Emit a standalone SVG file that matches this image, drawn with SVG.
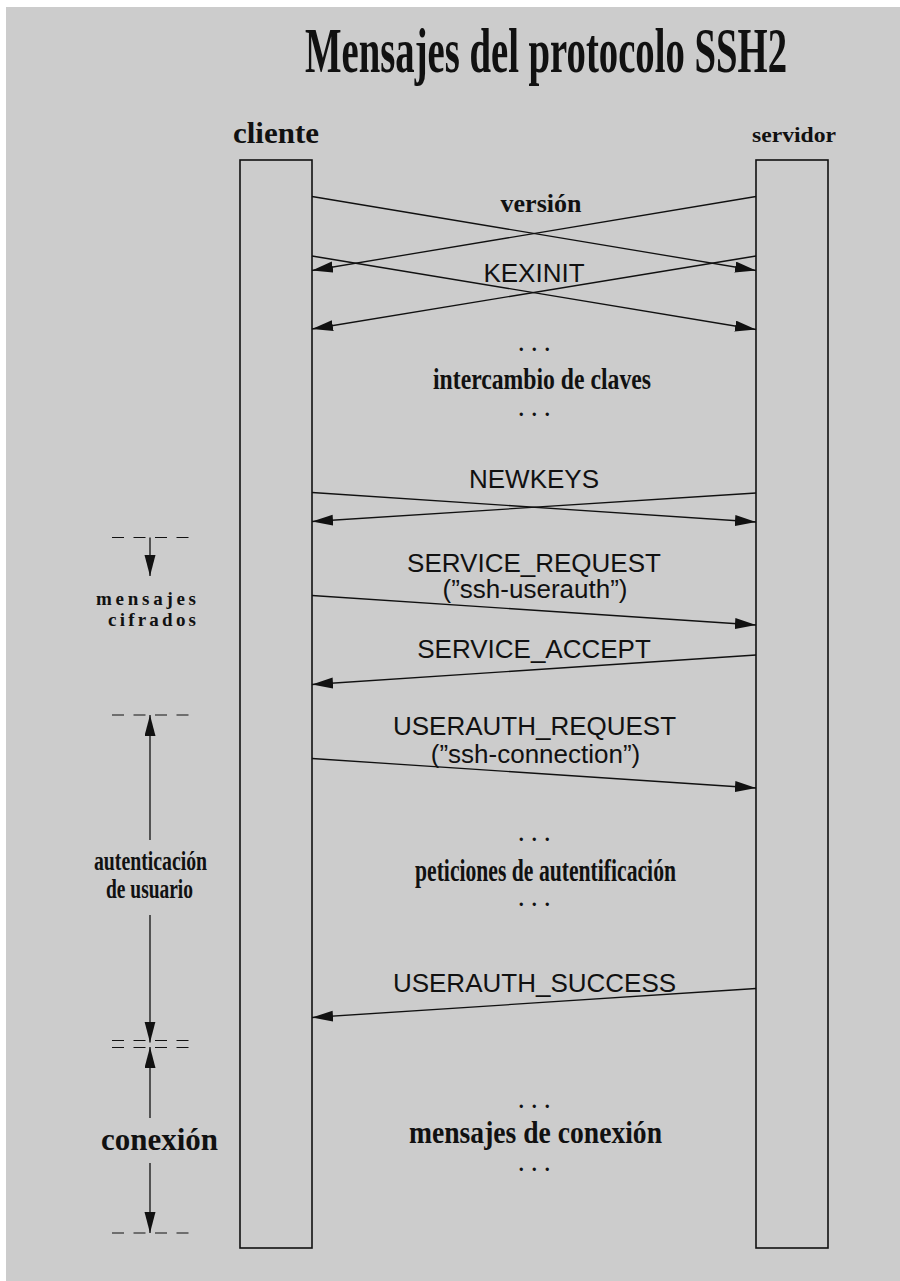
<svg xmlns="http://www.w3.org/2000/svg" width="900" height="1281" viewBox="0 0 900 1281">
  <style>
    .lifeline { fill: none; stroke: #111; stroke-width: 1.6; }
    .msg { fill: none; stroke: #111; stroke-width: 1.3; marker-end: url(#head); }
    .phase-arrow { fill: none; stroke: #111; stroke-width: 1.3; marker-end: url(#head); }
    .dash { fill: none; stroke: #111; stroke-width: 1.2; stroke-dasharray: 12 9.5; }
    .sans { font-family: "Liberation Sans", Arial, sans-serif; font-size: 26px; fill: #111; }
    .serif { font-family: "Liberation Serif", "Times New Roman", serif; font-weight: bold; fill: #111; }
    .dots { font-family: "Liberation Serif", "Times New Roman", serif; font-weight: bold; font-size: 20px; letter-spacing: 1.5px; fill: #111; }
  </style>
  <defs>
    <marker id="head" markerUnits="userSpaceOnUse" markerWidth="22" markerHeight="12" refX="21" refY="5.5" orient="auto">
      <path d="M0,0 L21,5.5 L0,11 z" fill="#111"/>
    </marker>
  </defs>

  <!-- page background -->
  <rect x="0" y="0" width="900" height="1281" fill="#ffffff"/>
  <rect x="6" y="7" width="894" height="1274" fill="#cccccc"/>

  <!-- title -->
  <text class="serif" x="546" y="72" font-size="63" text-anchor="middle" textLength="482" lengthAdjust="spacingAndGlyphs">Mensajes del protocolo SSH2</text>

  <!-- client lifeline -->
  <g id="cliente">
    <text class="serif" x="233" y="143" font-size="30" textLength="86" lengthAdjust="spacingAndGlyphs">cliente</text>
    <rect class="lifeline" x="240" y="160" width="72" height="1088"/>
  </g>

  <!-- server lifeline -->
  <g id="servidor">
    <text class="serif" x="752" y="142" font-size="21" textLength="84" lengthAdjust="spacingAndGlyphs">servidor</text>
    <rect class="lifeline" x="756" y="160" width="72" height="1088"/>
  </g>

  <!-- messages -->
  <g id="connectors">
    <line class="msg" x1="312" y1="196.5" x2="756" y2="270.5"/>
    <line class="msg" x1="756" y1="196.5" x2="312" y2="270.5"/>
    <line class="msg" x1="312" y1="256" x2="756" y2="329.5"/>
    <line class="msg" x1="756" y1="256" x2="312" y2="329"/>
    <line class="msg" x1="312" y1="492.5" x2="756" y2="522"/>
    <line class="msg" x1="756" y1="493" x2="312" y2="521.5"/>
    <line class="msg" x1="312" y1="595.5" x2="756" y2="625"/>
    <line class="msg" x1="756" y1="655" x2="312" y2="684.5"/>
    <line class="msg" x1="312" y1="758.5" x2="756" y2="788"/>
    <line class="msg" x1="756" y1="988.5" x2="312" y2="1017.5"/>
  </g>

  <!-- message labels -->
  <g id="labels">
    <text class="serif" x="541" y="212" font-size="26" text-anchor="middle">versión</text>
    <text class="sans" x="534" y="282" text-anchor="middle">KEXINIT</text>

    <text class="dots" x="535" y="351" text-anchor="middle">. . .</text>
    <text class="serif" x="542" y="389" font-size="30" text-anchor="middle" textLength="218" lengthAdjust="spacingAndGlyphs">intercambio de claves</text>
    <text class="dots" x="535" y="416" text-anchor="middle">. . .</text>

    <text class="sans" x="534" y="488" text-anchor="middle">NEWKEYS</text>
    <text class="sans" x="534" y="572" text-anchor="middle">SERVICE_REQUEST</text>
    <text class="sans" x="535" y="598" text-anchor="middle">(”ssh-userauth”)</text>
    <text class="sans" x="534" y="658" text-anchor="middle">SERVICE_ACCEPT</text>
    <text class="sans" x="534.5" y="735" text-anchor="middle">USERAUTH_REQUEST</text>
    <text class="sans" x="535.5" y="763" text-anchor="middle">(”ssh-connection”)</text>

    <text class="dots" x="535" y="841" text-anchor="middle">. . .</text>
    <text class="serif" x="545.5" y="881" font-size="31" text-anchor="middle" textLength="261" lengthAdjust="spacingAndGlyphs">peticiones de autentificación</text>
    <text class="dots" x="535" y="906" text-anchor="middle">. . .</text>

    <text class="sans" x="534.5" y="992" text-anchor="middle">USERAUTH_SUCCESS</text>

    <text class="dots" x="535" y="1108" text-anchor="middle">. . .</text>
    <text class="serif" x="535.5" y="1143" font-size="32" text-anchor="middle" textLength="253" lengthAdjust="spacingAndGlyphs">mensajes de conexión</text>
    <text class="dots" x="535" y="1171" text-anchor="middle">. . .</text>
  </g>

  <!-- phase markers -->
  <g id="fase-cifrado">
    <line class="dash" x1="112" y1="537.5" x2="189" y2="537.5"/>
    <line class="phase-arrow" x1="150" y1="537.5" x2="150" y2="576"/>
    <text class="serif" x="96" y="605" font-size="19" textLength="100" lengthAdjust="spacing">mensajes</text>
    <text class="serif" x="108" y="626" font-size="19" textLength="88" lengthAdjust="spacing">cifrados</text>
  </g>

  <g id="fase-autenticacion">
    <line class="dash" x1="112" y1="715" x2="189" y2="715"/>
    <line class="phase-arrow" x1="150" y1="840" x2="150" y2="715"/>
    <text class="serif" x="150.5" y="870" font-size="27" text-anchor="middle" textLength="113" lengthAdjust="spacingAndGlyphs">autenticación</text>
    <text class="serif" x="149.5" y="898" font-size="27" text-anchor="middle" textLength="87" lengthAdjust="spacingAndGlyphs">de usuario</text>
    <line class="phase-arrow" x1="150" y1="915" x2="150" y2="1042.5"/>
  </g>

  <g id="fase-conexion">
    <line class="dash" x1="112" y1="1040.5" x2="189" y2="1040.5"/>
    <line class="dash" x1="112" y1="1047.5" x2="189" y2="1047.5"/>
    <line class="phase-arrow" x1="150" y1="1118" x2="150" y2="1047"/>
    <text class="serif" x="159.5" y="1150" font-size="31" text-anchor="middle" textLength="117" lengthAdjust="spacingAndGlyphs">conexión</text>
    <line class="phase-arrow" x1="150" y1="1163" x2="150" y2="1233"/>
    <line class="dash" x1="112" y1="1233" x2="189" y2="1233"/>
  </g>
</svg>
